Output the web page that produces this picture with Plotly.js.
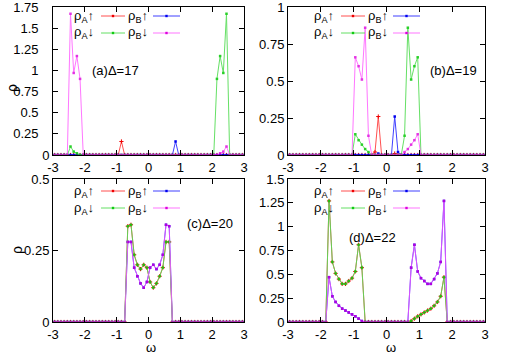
<!DOCTYPE html>
<html>
<head>
<meta charset="utf-8">
<script src="https://cdn.plot.ly/plotly-3.0.1.min.js"></script>
<style>html,body{margin:0;padding:0;background:#fff}#plot{width:506px;height:354px}</style>
</head>
<body>
<div id="plot"></div>
<script>
// frequency grid shared by all four panels
var omega = [-2.95,-2.85,-2.75,-2.65,-2.55,-2.45,-2.35,-2.25,-2.15,-2.05,
             -1.95,-1.85,-1.75,-1.65,-1.55,-1.45,-1.35,-1.25,-1.15,-1.05,
             -0.95,-0.85,-0.75,-0.65,-0.55,-0.45,-0.35,-0.25,-0.15,-0.05,
              0.05, 0.15, 0.25, 0.35, 0.45, 0.55, 0.65, 0.75, 0.85, 0.95,
              1.05, 1.15, 1.25, 1.35, 1.45, 1.55, 1.65, 1.75, 1.85, 1.95,
              2.05, 2.15, 2.25, 2.35, 2.45, 2.55, 2.65, 2.75, 2.85, 2.95];

// (a) Delta = 17
var aAup = [0,0,0,0,0,0,0,0,0,0, 0,0,0,0,0,0,0,0,0,0, 0,0.16,0,0,0,0,0,0,0,0,
            0,0,0,0,0,0,0,0,0,0, 0,0,0,0,0,0,0,0,0,0, 0,0,0,0,0,0,0,0,0,0];
var aBup = [0,0,0,0,0,0,0,0,0,0, 0,0,0,0,0,0,0,0,0,0, 0,0,0,0,0,0,0,0,0,0,
            0,0,0,0,0,0,0,0,0.16,0, 0,0,0,0,0,0,0,0,0,0, 0,0,0,0,0,0,0,0,0,0];
var aAdn = [0,0,0,0,0,0.10,0.04,0.02,0,0, 0,0,0,0,0,0,0,0,0,0, 0,0,0,0,0,0,0,0,0,0,
            0,0,0,0,0,0,0,0,0,0, 0,0,0,0,0,0,0,0,0,0, 0,0.90,1.17,0.97,1.67,0,0,0,0,0];
var aBdn = [0,0,0,0,0,1.67,0.97,1.17,0.90,0, 0,0,0,0,0,0,0,0,0,0, 0,0,0,0,0,0,0,0,0,0,
            0,0,0,0,0,0,0,0,0,0, 0,0,0,0,0,0,0,0,0,0, 0,0,0.02,0.04,0.10,0,0,0,0,0];

// (b) Delta = 19
var bAup = [0,0,0,0,0,0,0,0,0,0, 0,0,0,0,0,0,0,0,0,0, 0,0,0,0,0,0,0.02,0.26,0,0,
            0,0,0.01,0,0,0,0,0,0,0, 0,0,0,0,0,0,0,0,0,0, 0,0,0,0,0,0,0,0,0,0];
var bBup = [0,0,0,0,0,0,0,0,0,0, 0,0,0,0,0,0,0,0,0,0, 0,0,0,0,0,0,0,0.01,0,0,
            0,0,0.26,0.02,0,0,0,0,0,0, 0,0,0,0,0,0,0,0,0,0, 0,0,0,0,0,0,0,0,0,0];
var bAdn = [0,0,0,0,0,0,0,0,0,0, 0,0,0,0,0,0,0,0,0,0, 0.14,0.10,0.07,0.04,0.02,0,0,0,0,0,
            0,0,0,0,0,0.13,0.86,0.51,0.60,0.66, 0,0,0,0,0,0,0,0,0,0, 0,0,0,0,0,0,0,0,0,0];
var bBdn = [0,0,0,0,0,0,0,0,0,0, 0,0,0,0,0,0,0,0,0,0, 0.66,0.60,0.51,0.86,0.13,0,0,0,0,0,
            0,0,0,0,0,0.02,0.04,0.07,0.10,0.14, 0,0,0,0,0,0,0,0,0,0, 0,0,0,0,0,0,0,0,0,0];

// (c) Delta = 20
var cAup = [0,0,0,0,0,0,0,0,0,0, 0,0,0,0,0,0,0,0,0,0, 0,0,0,0.335,0.34,0.235,0.20,0.185,0.20,0.19,
            0.14,0.12,0.135,0.16,0.19,0.28,0.28,0,0,0, 0,0,0,0,0,0,0,0,0,0, 0,0,0,0,0,0,0,0,0,0];
var cBup = [0,0,0,0,0,0,0,0,0,0, 0,0,0,0,0,0,0,0,0,0, 0,0,0,0.28,0.28,0.19,0.16,0.135,0.12,0.14,
            0.19,0.20,0.185,0.20,0.235,0.34,0.335,0,0,0, 0,0,0,0,0,0,0,0,0,0, 0,0,0,0,0,0,0,0,0,0];
var cAdn = [0,0,0,0,0,0,0,0,0,0, 0,0,0,0,0,0,0,0,0,0, 0,0,0,0.335,0.34,0.235,0.20,0.185,0.20,0.19,
            0.14,0.12,0.135,0.16,0.19,0.28,0.28,0,0,0, 0,0,0,0,0,0,0,0,0,0, 0,0,0,0,0,0,0,0,0,0];
var cBdn = [0,0,0,0,0,0,0,0,0,0, 0,0,0,0,0,0,0,0,0,0, 0,0,0,0.28,0.28,0.19,0.16,0.135,0.12,0.14,
            0.19,0.20,0.185,0.20,0.235,0.34,0.335,0,0,0, 0,0,0,0,0,0,0,0,0,0, 0,0,0,0,0,0,0,0,0,0];

// (d) Delta = 22
var dAup = [0,0,0,0,0,0,0,0,0,0, 0,0,1.27,0.63,0.51,0.45,0.40,0.40,0.43,0.46, 0.53,0.81,0.57,0,0,0,0,0,0,0,
            0,0,0,0,0,0,0,0.01,0.035,0.06, 0.08,0.10,0.12,0.14,0.17,0.21,0.27,0.47,0,0, 0,0,0,0,0,0,0,0,0,0];
var dBup = [0,0,0,0,0,0,0,0,0,0, 0,0,0.47,0.27,0.21,0.17,0.14,0.12,0.10,0.08, 0.06,0.035,0.01,0,0,0,0,0,0,0,
            0,0,0,0,0,0,0,0.57,0.81,0.53, 0.46,0.43,0.40,0.40,0.45,0.51,0.63,1.27,0,0, 0,0,0,0,0,0,0,0,0,0];
var dAdn = [0,0,0,0,0,0,0,0,0,0, 0,0,1.27,0.63,0.51,0.45,0.40,0.40,0.43,0.46, 0.53,0.81,0.57,0,0,0,0,0,0,0,
            0,0,0,0,0,0,0,0.01,0.035,0.06, 0.08,0.10,0.12,0.14,0.17,0.21,0.27,0.47,0,0, 0,0,0,0,0,0,0,0,0,0];
var dBdn = [0,0,0,0,0,0,0,0,0,0, 0,0,0.47,0.27,0.21,0.17,0.14,0.12,0.10,0.08, 0.06,0.035,0.01,0,0,0,0,0,0,0,
            0,0,0,0,0,0,0,0.57,0.81,0.53, 0.46,0.43,0.40,0.40,0.45,0.51,0.63,1.27,0,0, 0,0,0,0,0,0,0,0,0,0];

var seriesNames = ["ρ<sub>A</sub>↑", "ρ<sub>B</sub>↑", "ρ<sub>A</sub>↓", "ρ<sub>B</sub>↓"];
var panelLabels = ["(a)Δ=17", "(b)Δ=19", "(c)Δ=20", "(d)Δ=22"];
var xTickVals = [-3, -2, -1, 0, 1, 2, 3];
var xTickText = ["-3", "-2", "-1", "0", "1", "2", "3"];
var yTickVals = [0, 0.25, 0.5, 0.75, 1, 1.25, 1.5, 1.75];
var yTickText = ["0", "0.25", "0.5", "0.75", "1", "1.25", "1.5", "1.75"];

var W = 506, H = 354;
function px(x) { return x / W; }
function py(y) { return 1 - y / H; }

// pale line colours with stronger point colours, like the thin gnuplot lines
var lineColors = ["#ff5050", "#4040ff", "#55dd55", "#ff55ff"];
var markColors = ["#ee0000", "#0000ee", "#11cc11", "#dd00dd"];
var symbols = ["cross-thin", "square", "square", "square"];
var opac = [1, 1, 0.9, 0.8];

var panels = [
  {data: [aAup, aBup, aAdn, aBdn], ax: ""},
  {data: [bAup, bBup, bAdn, bBdn], ax: "2"},
  {data: [cAup, cBup, cAdn, cBdn], ax: "3"},
  {data: [dAup, dBup, dAdn, dBdn], ax: "4"}
];

var traces = [];
panels.forEach(function(p) {
  p.data.forEach(function(ys, i) {
    traces.push({
      x: omega, y: ys, type: "scatter", mode: "lines+markers",
      xaxis: "x" + p.ax, yaxis: "y" + p.ax, opacity: opac[i],
      line: {color: lineColors[i], width: 1},
      marker: {color: markColors[i], size: i == 0 ? 3 : 2.5, symbol: symbols[i],
               line: {color: markColors[i], width: i == 0 ? 1 : 0}},
      showlegend: false, hoverinfo: "skip"
    });
  });
});

// pixel boxes of the four frames: [left, right, top, bottom]
var boxes = [[53, 244, 7, 155], [288, 485, 7, 155], [53, 244, 179, 322], [288, 485, 179, 322]];
var font = {family: "Liberation Sans, Arial, sans-serif", size: 13, color: "#000"};

function xAxis(b, yname) {
  return {domain: [px(b[0]), px(b[1])], anchor: yname, range: [-3, 3],
          tickvals: xTickVals, ticktext: xTickText,
          ticks: "inside", ticklen: 5, tickcolor: "#000", showline: true, linecolor: "#000",
          linewidth: 1, mirror: "ticks", showgrid: false, zeroline: false, tickfont: font,
          ticklabeloverflow: "allow"};
}
function yAxis(b, xname, ymax, labels) {
  return {domain: [py(b[3]), py(b[2])], anchor: xname, range: [0, ymax],
          tickvals: yTickVals, ticktext: labels || yTickText,
          ticks: "inside", ticklen: 5, tickcolor: "#000", showline: true, linecolor: "#000",
          linewidth: 1, mirror: "ticks", showgrid: false, zeroline: false, tickfont: font,
          ticklabeloverflow: "allow"};
}

// panel (a): non-zero labels sit about 10px further from the axis, as in the original
var pad = '<span style="color:rgba(0,0,0,0)">0.</span>';
var aLabels = yTickText.map(function(t) { return t == "0" ? t : t + pad; });

var layout = {
  width: W, height: H, margin: {l: 0, r: 0, t: 0, b: 0},
  paper_bgcolor: "#fff", plot_bgcolor: "#fff", font: font, showlegend: false,
  xaxis: xAxis(boxes[0], "y"), yaxis: yAxis(boxes[0], "x", 1.75, aLabels),
  xaxis2: xAxis(boxes[1], "y2"), yaxis2: yAxis(boxes[1], "x2", 1),
  xaxis3: xAxis(boxes[2], "y3"), yaxis3: yAxis(boxes[2], "x3", 0.5),
  xaxis4: xAxis(boxes[3], "y4"), yaxis4: yAxis(boxes[3], "x4", 1.5),
  annotations: [], shapes: []
};

function note(text, x, y, opts) {
  var a = {text: text, x: px(x), y: py(y), xref: "paper", yref: "paper",
           xanchor: "center", yanchor: "middle", showarrow: false, font: font};
  for (var k in opts) a[k] = opts[k];
  layout.annotations.push(a);
}

// axis titles
var titleFont = {family: font.family, size: 14, color: "#000"};
note("ρ", 12, 88, {textangle: -90, font: titleFont});
note("ρ", 17, 250, {textangle: -90, font: titleFont});
note("ω", 151, 347, {font: font});
note("ω", 391, 347, {font: font});

// panel labels
var labelPos = [[115, 70], [453, 70], [210, 223], [372, 237]];
panelLabels.forEach(function(t, i) { note(t, labelPos[i][0], labelPos[i][1]); });

// gnuplot-style keys: label then sample line, two columns x two rows
var keyOrigin = [[0, 16], [240, 16], [0, 191], [240, 191]];
var keyCells = [[0, 0], [1, 0], [0, 1], [1, 1]];  // same order as seriesNames
keyOrigin.forEach(function(o) {
  keyCells.forEach(function(c, i) {
    var textRight = (c[0] == 0 ? 96 : 150) + o[0];
    var s0 = (c[0] == 0 ? 101 : 153) + o[0];
    var s1 = (c[0] == 0 ? 125 : 180) + o[0];
    var yy = o[1] + c[1] * 17;
    note(seriesNames[i], textRight, yy, {xanchor: "right"});
    layout.shapes.push({type: "line", xref: "paper", yref: "paper",
      x0: px(s0), x1: px(s1), y0: py(yy), y1: py(yy), opacity: opac[i],
      line: {color: lineColors[i], width: 1}});
    var m = (s0 + s1) / 2;
    layout.shapes.push({type: "rect", xref: "paper", yref: "paper",
      x0: px(m - 1.2), x1: px(m + 1.2), y0: py(yy - 1.2), y1: py(yy + 1.2),
      fillcolor: markColors[i], line: {width: 0}});
  });
});

Plotly.newPlot("plot", traces, layout, {staticPlot: true, displayModeBar: false});
</script>
</body>
</html>
